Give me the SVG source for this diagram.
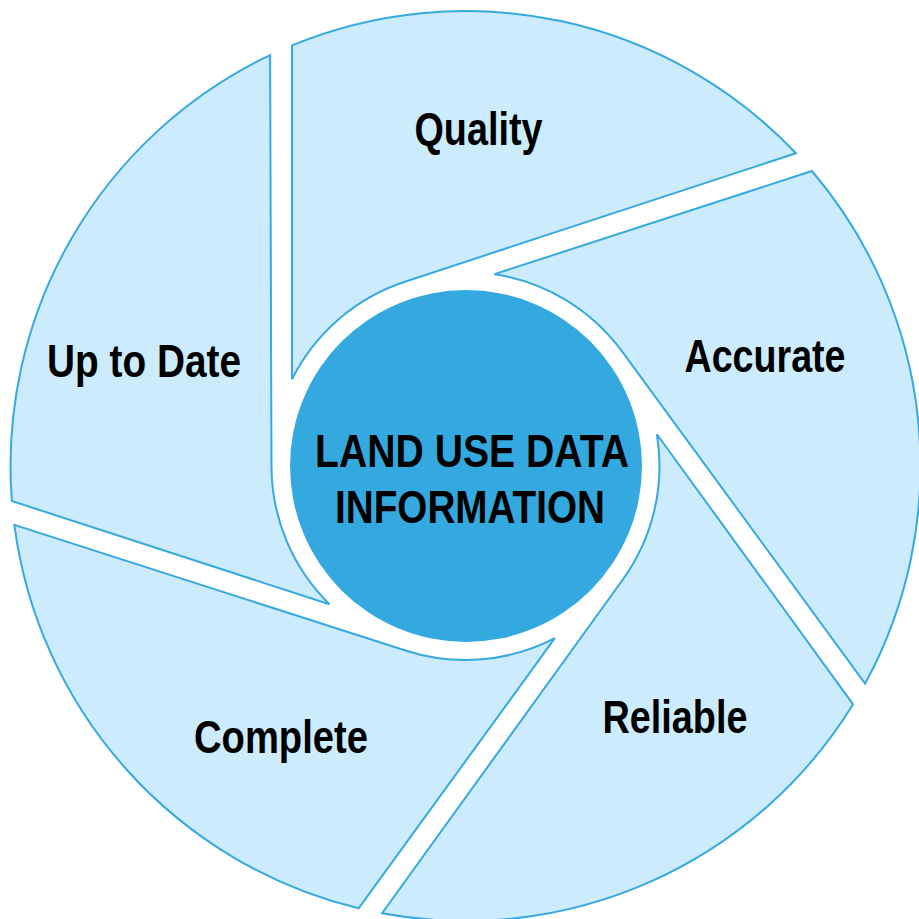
<svg xmlns="http://www.w3.org/2000/svg" width="919" height="919" viewBox="0 0 919 919">
<defs>
<style>
.blade{fill:#CCECFD;stroke:#36A9E1;stroke-width:2;stroke-linejoin:miter}
.lbl{font-family:"Liberation Sans",Arial,sans-serif;font-weight:bold;font-size:47px;fill:#000;text-anchor:middle}
.core{fill:#34A9E0}
</style>
<path id="bladeShape" d="M 292 45.4 A 455 455 0 0 1 795.9 153.2 L 404.9 281.7 A 194 194 0 0 0 292 379.2 Z"/>
</defs>
<rect width="919" height="919" fill="#FFFFFF"/>
<g id="connectors"></g>
<g id="node-quality">
<use href="#bladeShape" class="blade"/>
<text class="lbl" x="478.5" y="145" textLength="128" lengthAdjust="spacingAndGlyphs">Quality</text>
</g>
<g id="node-accurate">
<use href="#bladeShape" class="blade" transform="rotate(72 465.5 466)"/>
<text class="lbl" x="765" y="372" textLength="161" lengthAdjust="spacingAndGlyphs">Accurate</text>
</g>
<g id="node-reliable">
<use href="#bladeShape" class="blade" transform="rotate(144 465.5 466)"/>
<text class="lbl" x="675" y="733" textLength="145" lengthAdjust="spacingAndGlyphs">Reliable</text>
</g>
<g id="node-complete">
<use href="#bladeShape" class="blade" transform="rotate(216 465.5 466)"/>
<text class="lbl" x="281" y="753" textLength="174" lengthAdjust="spacingAndGlyphs">Complete</text>
</g>
<g id="node-uptodate">
<use href="#bladeShape" class="blade" transform="rotate(288 465.5 466)"/>
<text class="lbl" x="144" y="377" textLength="194" lengthAdjust="spacingAndGlyphs">Up to Date</text>
</g>
<g id="node-center">
<circle class="core" cx="466" cy="466" r="176"/>
<text class="lbl" x="472" y="467" textLength="314" lengthAdjust="spacingAndGlyphs">LAND USE DATA</text>
<text class="lbl" x="470" y="523" textLength="270" lengthAdjust="spacingAndGlyphs">INFORMATION</text>
</g>
</svg>
